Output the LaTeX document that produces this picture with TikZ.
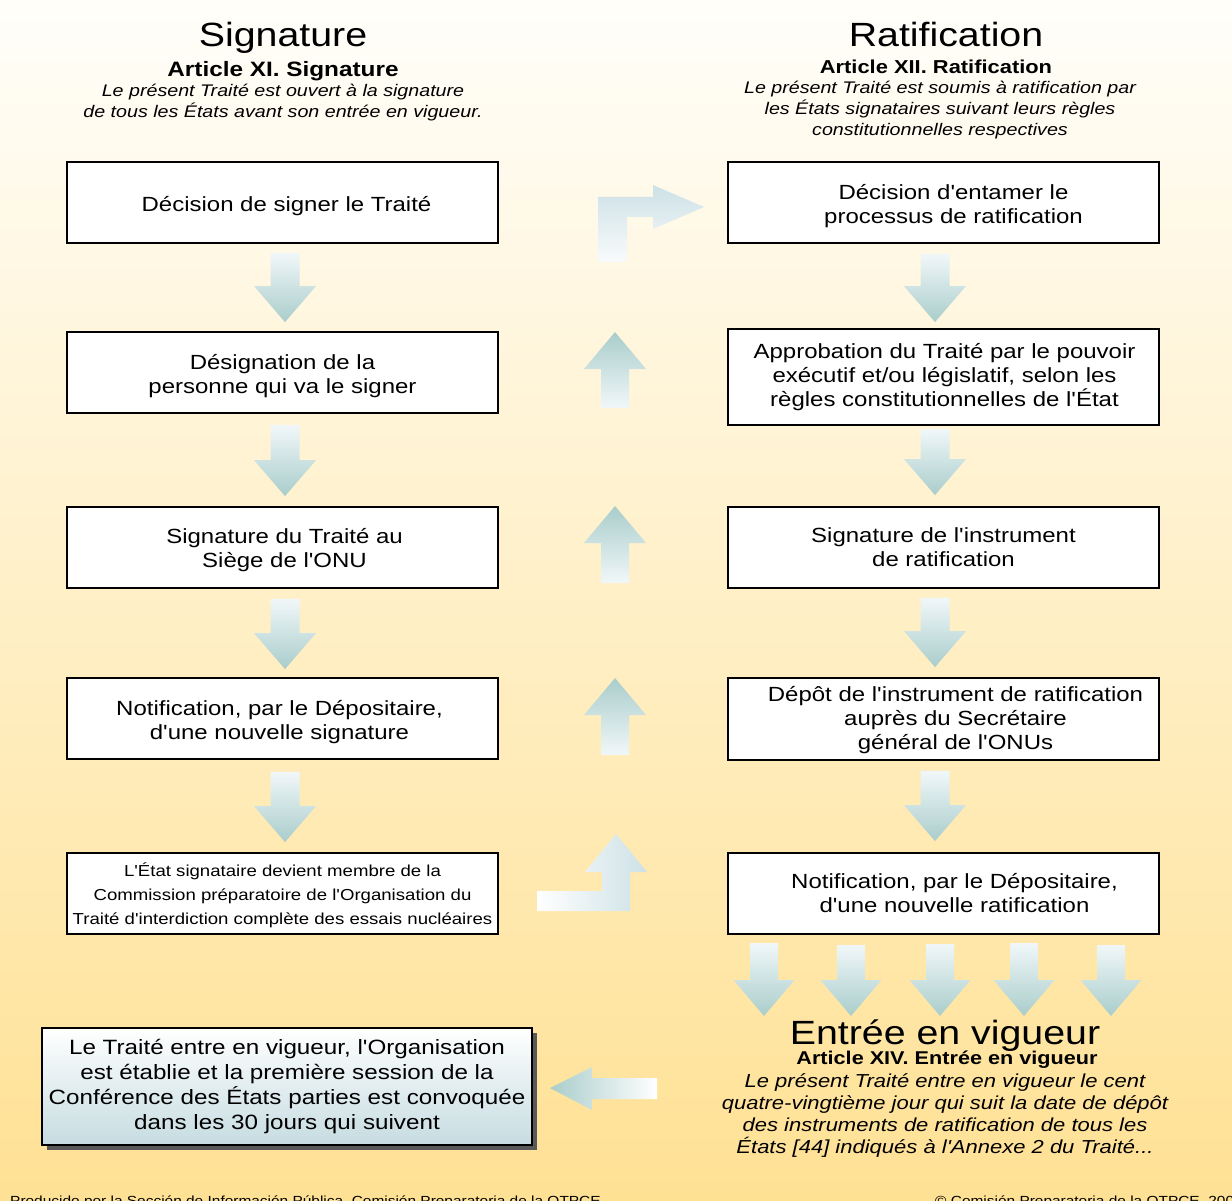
\documentclass[tikz,border=0pt]{standalone}
\usepackage{fontspec}
\setmainfont{Liberation Sans}[FakeStretch=1.17, Ligatures=TeXOff]
\usetikzlibrary{calc,shadows}
\definecolor{bgtop}{HTML}{FFFEFA}
\definecolor{bgmid}{HTML}{FFF2CF}
\definecolor{bgbot}{HTML}{FFE194}
\definecolor{arrlight}{HTML}{F1F7F9}
\definecolor{arrdark}{HTML}{A9CDCB}
\definecolor{bentblue}{HTML}{CDE1E6}
\definecolor{finbot}{HTML}{C6DCE1}
\tikzset{
  stepbox/.style={draw=black, line width=1.8pt, fill=white, minimum width=431pt,
    minimum height=81pt, inner sep=0pt},
  boxtext/.style={align=center, inner sep=0pt, font=\fontsize{20.5}{24}\selectfont},
  dnshade/.style={top color=arrlight, bottom color=arrdark, draw=none},
  upshade/.style={top color=arrdark, bottom color=arrlight, draw=none},
  titletext/.style={inner sep=0pt, font=\fontsize{33.6}{40}\selectfont},
  arttext/.style={inner sep=0pt, font=\bfseries\fontsize{20.8}{24}\selectfont},
  ittext/.style={inner sep=0pt, align=center, font=\itshape\fontsize{16.8}{21}\selectfont},
  foottext/.style={inner sep=0pt, anchor=base west, font=\fontsize{13.2}{15}\selectfont}
}
\newcommand\dnarr[5]{%
  \shade[dnshade] let \p1=($(#1.south)+(#3,#4)$), \p2=($(#2.north)+(#3,-#5)$) in
   (\x1-14.5pt,\y1) -- (\x1+14.5pt,\y1) -- (\x1+14.5pt,\y2+36pt) -- (\x1+31pt,\y2+36pt)
   -- (\x1,\y2) -- (\x1-31pt,\y2+36pt) -- (\x1-14.5pt,\y2+36pt) -- cycle;}
\newcommand\uparr[3]{%
  \shade[upshade] (#1-14,#3) -- (#1+14,#3) -- (#1+14,#2+37) -- (#1+31,#2+37)
   -- (#1,#2) -- (#1-31,#2+37) -- (#1-14,#2+37) -- cycle;}
\newcommand\dnfree[3]{%
  \shade[dnshade] (#1-14,#2) -- (#1+14,#2) -- (#1+14,#3-36) -- (#1+30.5,#3-36)
   -- (#1,#3) -- (#1-30.5,#3-36) -- (#1-14,#3-36) -- cycle;}
\begin{document}
\begin{tikzpicture}[x=1pt,y=-1pt]
\useasboundingbox (0,0) rectangle (1232,1201);
\clip (0,0) rectangle (1232,1201);
\shade[top color=bgtop, middle color=bgmid, bottom color=bgbot] (0,0) rectangle (1232,1201);

% headings
\node[titletext] (tsig) at (283,38) {Signature};
\node[arttext] (asig) at (283,71) {Article XI. Signature};
\node[ittext] (isig) at (283,103) {Le présent Traité est ouvert à la signature\\de tous les États avant son entrée en vigueur.};
\node[titletext] (trat) at (946,34) {Ratification};
\node[arttext, font=\bfseries\fontsize{18.7}{22}\selectfont] (arat) at (936,67) {Article XII. Ratification};
\node[ittext] (irat) at (940,110) {Le présent Traité est soumis à ratification par\\les États signataires suivant leurs règles\\constitutionnelles respectives};

% left column
\node[stepbox] (l1) at (282.5,202.5) {};
\node[boxtext] (l1t) at ($(l1.center)+(4,4)$) {Décision de signer le Traité};
\node[stepbox] (l2) at (282.5,372.5) {};
\node[boxtext] (l2t) at ($(l2.center)+(0,4)$) {Désignation de la\\personne qui va le signer};
\node[stepbox] (l3) at (282.5,547.5) {};
\node[boxtext] (l3t) at ($(l3.center)+(2,3)$) {Signature du Traité au\\Siège de l'ONU};
\node[stepbox] (l4) at (282.5,718.5) {};
\node[boxtext] (l4t) at ($(l4.center)+(-3,4)$) {Notification, par le Dépositaire,\\d'une nouvelle signature};
\node[stepbox] (l5) at (282.5,893.5) {};
\node[boxtext, font=\fontsize{15.9}{24}\selectfont] (l5t) at ($(l5.center)+(0,2)$) {L'État signataire devient membre de la\\Commission préparatoire de l'Organisation du\\Traité d'interdiction complète des essais nucléaires};

% right column
\node[stepbox] (r1) at (943.5,202.5) {};
\node[boxtext] (r1t) at ($(r1.center)+(10,4)$) {Décision d'entamer le\\processus de ratification};
\node[stepbox, minimum height=96pt] (r2) at (943.5,377) {};
\node[boxtext] (r2t) at ($(r2.center)+(1,0)$) {Approbation du Traité par le pouvoir\\exécutif et/ou législatif, selon les\\règles constitutionnelles de l'État};
\node[stepbox] (r3) at (943.5,547.5) {};
\node[boxtext] (r3t) at (r3.center) {Signature de l'instrument\\de ratification};
\node[stepbox, minimum height=82pt] (r4) at (943.5,719) {};
\node[boxtext] (r4t) at ($(r4.center)+(12,1)$) {Dépôt de l'instrument de ratification\\auprès du Secrétaire\\général de l'ONUs};
\node[stepbox] (r5) at (943.5,893.5) {};
\node[boxtext] (r5t) at ($(r5.center)+(11,0)$) {Notification, par le Dépositaire,\\d'une nouvelle ratification};

% column arrows
\dnarr{l1}{l2}{2.5}{9}{9}
\dnarr{l2}{l3}{2.5}{11}{10}
\dnarr{l3}{l4}{2.5}{10}{8}
\dnarr{l4}{l5}{2.5}{12}{10}
\dnarr{r1}{r2}{-8.5}{10}{6}
\dnarr{r2}{r3}{-8.5}{3}{11}
\dnarr{r3}{r4}{-8.5}{9}{10}
\dnarr{r4}{r5}{-8.5}{10}{11}

% middle upward arrows
\uparr{615}{332}{408}
\uparr{615}{506}{583}
\uparr{615}{678}{755}
\shade[left color=white, middle color=bentblue, right color=bentblue]
  (537,891) -- (602,891) -- (602,872) -- (585,872) -- (616,834) -- (647,872)
  -- (630,872) -- (630,911) -- (537,911) -- cycle;
\shade[top color=bentblue, middle color=bentblue, bottom color=arrlight!50!white]
  (598,262) -- (598,197) -- (653,197) -- (653,185) -- (704,207) -- (653,229)
  -- (653,217) -- (627,217) -- (627,262) -- cycle;

% five arrows
\dnfree{764}{943}{1016}
\dnfree{851}{945}{1016}
\dnfree{940}{944}{1016}
\dnfree{1024}{943}{1016}
\dnfree{1111}{945}{1016}

% entry into force
\node[titletext] (tent) at (945,1036) {Entrée en vigueur};
\node[arttext, font=\bfseries\fontsize{18.5}{22}\selectfont] (aent) at (947,1060) {Article XIV. Entrée en vigueur};
\node[ittext, font=\itshape\fontsize{18.8}{22}\selectfont] (ient) at (945,1116) {Le présent Traité entre en vigueur le cent\\quatre-vingtième jour qui suit la date de dépôt\\des instruments de ratification de tous les\\États [44] indiqués à l'Annexe 2 du Traité...};

% final box
\node[draw=black, line width=1.5pt, top color=white, bottom color=finbot,
  minimum width=490pt, minimum height=117pt, inner sep=0pt, align=center,
  font=\fontsize{20.7}{25}\selectfont,
  drop shadow={shadow xshift=5pt, shadow yshift=-5pt, opacity=1, fill=black!65}]
  (fin) at (287,1086.5) {Le Traité entre en vigueur, l'Organisation\\est établie et la première session de la\\Conférence des États parties est convoquée\\dans les 30 jours qui suivent};
\shade[left color=arrdark, right color=white]
  (550,1088) -- (592,1067) -- (592,1078) -- (657,1078) -- (657,1099)
  -- (592,1099) -- (592,1110) -- cycle;

% footer
\node[foottext] (fl) at (10,1205) {Producido por la Sección de Información Pública, Comisión Preparatoria de la OTPCE};
\node[foottext] (fr) at (935,1205) {© Comisión Preparatoria de la OTPCE, 200};
\end{tikzpicture}
\end{document}
